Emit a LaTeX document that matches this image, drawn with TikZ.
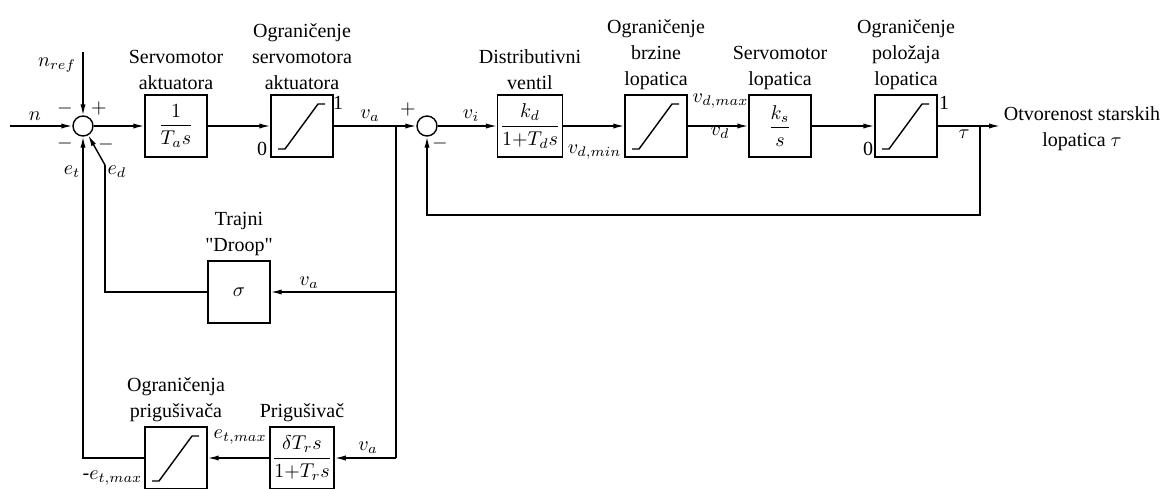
\documentclass[tikz,border=0pt]{standalone}
\usepackage{amsmath}
\usepackage{fontspec}
\setmainfont{Liberation Serif}
\usetikzlibrary{calc, positioning, arrows.meta}

\begin{document}
\begin{tikzpicture}[x=0.5pt, y=-0.5pt, line width=0.7pt,
  >={Latex[length=5.5pt,width=2.6pt]},
  font=\fontsize{10}{13}\selectfont,
  block/.style={draw, minimum width=31pt, minimum height=31pt, inner sep=1pt},
  sumnode/.style={draw, circle, minimum size=10pt, inner sep=0pt},
  title/.style={align=center, inner sep=2pt},
  lbl/.style={inner sep=1pt}]
  \useasboundingbox (0,0) rectangle (1165,488);

  % forward path
  \coordinate (in) at (10,126);
  \coordinate (nref) at (83,52);
  \node[sumnode] (sum1) at (83,126) {};
  \node[block] (tas) at (176,126) {$\dfrac{1}{T_a s}$};
  \node[block] (limakt) at (302,126) {};
  \coordinate (va) at (396,126);
  \node[sumnode] (sum2) at (427,126) {};
  \node[block] (distr) at (530,126) {$\dfrac{k_d}{1{+}T_d s}$};
  \node[block] (limbrz) at (656,126) {};
  \node[block] (servo) at (780,126) {$\dfrac{k_s}{s}$};
  \node[block] (limpol) at (906,126) {};
  \coordinate (tau) at (980,126);
  \coordinate (out) at (1000,126);
  \coordinate (fb) at (980,215);

  % feedback path
  \node[block] (droop) at (239,292) {$\sigma$};
  \node[block] (prig) at (302,458) {$\dfrac{\delta T_r s}{1{+}T_r s}$};
  \node[block] (limprig) at (176,458) {};
  \coordinate (vad) at (396,292);
  \coordinate (vap) at (396,458);
  \coordinate (ed) at (105,165);

  % saturation curves
  \foreach \b in {limakt,limbrz,limpol,limprig}
    \draw ($(\b)+(-24,23)$) -- ($(\b)+(-17,23)$) -- ($(\b)+(16,-22)$) -- ($(\b)+(23,-22)$);

  % titles
  \node[title, above=0pt of tas] {Servomotor\\aktuatora};
  \node[title, above=0pt of limakt] {Ograničenje\\servomotora\\aktuatora};
  \node[title, above=0pt of distr] {Distributivni\\ventil};
  \node[title, above=0pt of limbrz] {Ograničenje\\brzine\\lopatica};
  \node[title, above=0pt of servo] {Servomotor\\lopatica};
  \node[title, above=0pt of limpol] {Ograničenje\\položaja\\lopatica};
  \node[title, above=0pt of droop] {Trajni\\\textquotedbl Droop\textquotedbl};
  \node[title, above=0pt of prig] {Prigušivač};
  \node[title, above=0pt of limprig] {Ograničenja\\prigušivača};
  \node[title] (otv) at (1082,129) {Otvorenost starskih\\lopatica $\tau$};

  % connectors
  \draw[->] (in) -- (sum1);
  \draw[->] (nref) -- (sum1);
  \draw[->] (sum1) -- (tas);
  \draw[->] (tas) -- (limakt);
  \draw (limakt) -- (va);
  \draw[->] (va) -- (sum2);
  \draw[->] (sum2) -- (distr);
  \draw[->] (distr) -- (limbrz);
  \draw[->] (limbrz) -- (servo);
  \draw[->] (servo) -- (limpol);
  \draw (limpol) -- (tau);
  \draw[->] (tau) -- (out);
  \draw[->] (tau) -- (fb) -| (sum2);
  \draw (va) -- (vap);
  \draw[->] (vad) -- (droop);
  \draw[->] (vap) -- (prig);
  \draw[->] (prig) -- (limprig);
  \draw (droop) -| (ed);
  \draw[->] (ed) -- (sum1);
  \draw[->] (limprig) -| (sum1);

  % labels
  \node[lbl] at (35,116) {$n$};
  \node[lbl] at (57,65) {$n_{ref}$};
  \node[lbl] at (65,108) {$-$};
  \node[lbl] at (99,108) {$+$};
  \node[lbl] at (65,143) {$-$};
  \node[lbl] at (106,144) {$-$};
  \node[lbl] at (72,172) {$e_t$};
  \node[lbl] at (117,172) {$e_d$};
  \node[lbl] at (338,103) {1};
  \node[lbl] at (262,149) {0};
  \node[lbl] at (370,116) {$v_a$};
  \node[lbl] at (408,109) {$+$};
  \node[lbl] at (440,143) {$-$};
  \node[lbl] at (471,116) {$v_i$};
  \node[lbl, anchor=east] at (624,152) {$v_{d,min}$};
  \node[lbl, anchor=west] at (690,101) {$v_{d,max}$};
  \node[lbl] at (720,133) {$v_d$};
  \node[lbl] at (944,103) {1};
  \node[lbl] at (868,149) {0};
  \node[lbl] at (964,134) {$\tau$};
  \node[lbl] at (309,283) {$v_a$};
  \node[lbl] at (368,448) {$v_a$};
  \node[lbl, anchor=west] at (211,437) {$e_{t,max}$};
  \node[lbl, anchor=east] at (145,478) {-$e_{t,max}$};
\end{tikzpicture}
\end{document}
